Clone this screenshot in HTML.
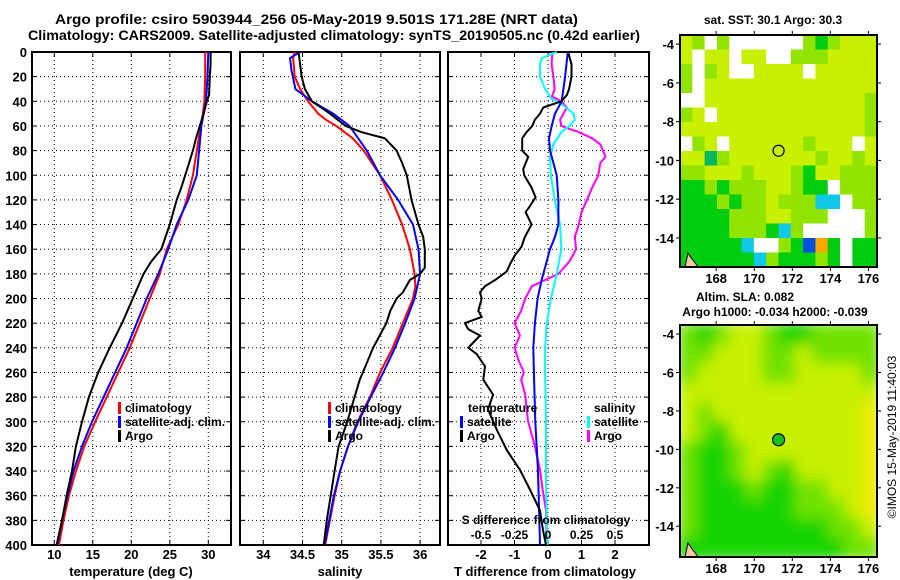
<!DOCTYPE html>
<html><head><meta charset="utf-8">
<style>
body{margin:0;background:#fff;}
svg{display:block;font-family:"Liberation Sans",sans-serif;font-weight:bold;}
</style></head>
<body>
<svg id="fig" width="900" height="580" viewBox="0 0 900 580" xmlns="http://www.w3.org/2000/svg">
<text x="55" y="24" font-size="13.5" textLength="523" lengthAdjust="spacingAndGlyphs">Argo profile: csiro 5903944_256 05-May-2019 9.501S 171.28E (NRT data)</text>
<text x="28" y="40" font-size="13.5" textLength="612" lengthAdjust="spacingAndGlyphs">Climatology: CARS2009. Satellite-adjusted climatology: synTS_20190505.nc (0.42d earlier)</text>
<g id="g1"></g>
<g id="g2"></g>
<g id="g3"></g>
<g id="m1"></g>
<g id="m2"></g>
<text x="773" y="24" font-size="12" text-anchor="middle">sat. SST: 30.1 Argo: 30.3</text>
<text x="745" y="301" font-size="12" text-anchor="middle">Altim. SLA: 0.082</text>
<text x="775" y="316" font-size="12" text-anchor="middle">Argo h1000: -0.034 h2000: -0.039</text>
<text x="0" y="0" font-size="12" font-weight="normal" text-anchor="middle" transform="translate(896,437) rotate(-90)">©IMOS 15-May-2019 11:40:03</text>
</svg>
<script>
// ---------- data ----------
const depthTicks=[0,20,40,60,80,100,120,140,160,180,200,220,240,260,280,300,320,340,360,380,400];
const tempTicks=[10,15,20,25,30];
const salTicks=[34,34.5,35,35.5,36];
const salTickLabels=["34","34.5","35","35.5","36"];
const tdiffTicks=[-2,-1,0,1,2];
const sdiffTicks=[-0.5,-0.25,0,0.25,0.5];
const sdiffTickLabels=["-0.5","-0.25","0","0.25","0.5"];

const tClimD=[0,20,40,50,60,80,100,120,140,160,180,200,220,240,260,280,300,320,340,360,380,400];
const tClimV=[29.6,29.6,29.5,29.3,29.0,28.5,28.0,27.2,26.1,24.6,23.7,22.4,21.1,19.8,18.3,16.8,15.3,13.9,12.8,11.9,11.2,10.6];
const tSatD=[0,20,40,50,60,80,100,120,140,160,180,200,220,240,260,280,300,320,340,360,380,400];
const tSatV=[30.0,29.9,29.7,29.4,29.1,28.8,28.5,27.4,25.9,24.8,23.5,22.0,20.7,19.4,17.9,16.4,14.9,13.6,12.5,11.7,11.0,10.4];
const tArgoD=[0,10,20,35,40,50,60,70,80,90,100,110,120,140,160,170,180,200,220,240,260,280,300,320,340,360,380,400];
const tArgoV=[30.3,30.3,30.2,30.1,29.8,29.4,28.9,28.4,28.0,27.5,27.0,26.5,25.9,25.0,23.9,22.6,21.6,20.2,18.8,17.2,15.7,14.5,13.6,12.8,12.3,11.6,11.0,10.3];

const sClimD=[0,5,20,30,40,50,55,60,70,80,100,120,140,160,180,190,200,220,240,260,280,300,320,340,360,380,400];
const sClimV=[34.40,34.38,34.40,34.47,34.57,34.70,34.80,34.93,35.14,35.28,35.49,35.64,35.77,35.87,35.93,35.94,35.91,35.78,35.65,35.49,35.36,35.20,35.08,34.98,34.91,34.85,34.79];
const sSatD=[0,5,15,30,40,50,60,80,100,120,140,160,180,200,220,240,260,280,300,320,340,360,380,400];
const sSatV=[34.47,34.34,34.36,34.41,34.62,34.89,35.10,35.32,35.49,35.72,35.91,35.98,36.00,35.93,35.81,35.68,35.53,35.37,35.21,35.08,34.98,34.90,34.84,34.78];
const sArgoD=[0,10,20,30,40,50,55,60,65,70,80,90,100,120,140,150,160,175,180,185,195,200,210,220,240,260,266,300,320,340,360,380,400];
const sArgoV=[34.45,34.47,34.49,34.53,34.62,34.85,34.95,35.05,35.25,35.55,35.70,35.77,35.83,35.89,35.98,36.04,36.06,36.06,36.00,35.87,35.78,35.70,35.62,35.57,35.40,35.27,35.23,35.07,34.96,34.91,34.86,34.81,34.77];

const dTSatD=[0,20,40,50,60,70,80,90,100,120,140,150,160,175,185,200,220,240,260,300,340,400];
const dTSatV=[0.59,0.51,0.41,0.21,0.11,0.03,0.06,0.16,0.26,0.31,0.31,0.21,0.06,-0.09,-0.19,-0.31,-0.39,-0.44,-0.42,-0.38,-0.30,-0.24];
const dTArgoD=[0,10,20,30,35,40,45,50,55,60,65,70,80,85,95,100,110,118,125,130,140,150,158,165,172,178,185,190,195,200,210,215,220,225,230,240,245,255,266,278,290,307,323,339,355,372,388,400];
const dTArgoV=[0.6,0.7,0.7,0.63,0.56,0.4,-0.14,-0.24,-0.39,-0.47,-0.64,-0.77,-0.77,-0.59,-0.74,-0.71,-0.49,-0.37,-0.54,-0.67,-0.49,-0.69,-0.79,-0.99,-1.13,-1.23,-1.58,-1.88,-2.03,-1.98,-2.08,-1.98,-2.48,-2.38,-2.03,-2.38,-2.13,-1.88,-1.93,-1.64,-1.79,-1.52,-1.23,-0.84,-0.54,-0.24,-0.15,-0.06];
const dSSatD=[0,5,10,20,30,38,42,50,55,60,65,75,85,100,120,140,160,180,200,220,240,260,300,350,400];
const dSSatV=[0.065,-0.047,-0.06,-0.06,-0.022,0.027,0.10,0.19,0.20,0.16,0.10,0.04,0.015,0.022,0.05,0.09,0.10,0.065,0.022,-0.01,-0.022,-0.022,-0.015,-0.015,-0.005];
const dSArgoD=[0,10,20,30,36,40,45,50,55,60,62,65,70,75,80,85,90,100,110,120,130,140,150,160,170,180,185,190,200,210,220,230,240,250,260,266,278,299,319,339,355,372,396,400];
const dSArgoV=[0.032,0.027,0.04,0.05,0.03,0.1,0.14,0.115,0.09,0.1,0.15,0.23,0.33,0.39,0.41,0.43,0.39,0.375,0.33,0.29,0.25,0.23,0.2,0.21,0.16,0.077,-0.022,-0.12,-0.17,-0.2,-0.25,-0.21,-0.25,-0.22,-0.18,-0.2,-0.17,-0.15,-0.1,-0.06,-0.04,-0.015,-0.01,-0.01];

const mapRows1=["ylwlwwwwwwlglyyy","ywyywyywwlllyyyy","lwlywwyyyywyyyyy","lwyyyyyyyyyyyyyy","wwyyyyyyyyyyyyyl","lywyyyyyyyyyyyyl","yyyyyyyyyyyyyyyl","wlywyyyyyylyyywy","yydlyyyyyyylyyly","llyyylyyylgyylll","gglglllyylggwlll","ggglgllylllccwll","gggglllyylllwwwl","gggglllgclwwwwwl","gggggcwwlgbogwgg","ggggggclggglgwgg"];
const mapRows2=["lglyylggllll","llyyyllyllll","lyyyyllyyyyl","yyyyyyyyyyyy","ylyyyyyyyyyY","ylgyyyyyyyyY","lgglyyyyyyyY","lgglylgyyyyY","lggglggllyyY","lgggggglllyY","lgggggggglly","ggggggggggll"];
const lonTicks=[168,170,172,174,176];
const latTicks=[-4,-6,-8,-10,-12,-14];
const argoLon=171.28, argoLat=-9.501;

// ---------- helpers ----------
const NS="http://www.w3.org/2000/svg";
function mk(parent,tag,attrs){const e=document.createElementNS(NS,tag);for(const k in attrs)e.setAttribute(k,attrs[k]);parent.appendChild(e);return e;}
const yD=d=>52+d*1.2325;
const TOP=52,BOT=545;
const xT=t=>54.3+(t-10)*7.7;
const xS=s=>263.3+(s-34)*78.4;
const xDT=t=>548+t*33.5;
const xDS=s=>548+s*134;

function frame(g,x0,x1,labelsLeft){
  depthTicks.forEach(d=>{
    if(d>0&&d<400){const l=mk(g,'line',{x1:x0,x2:x1,y1:yD(d),y2:yD(d),stroke:'#000','stroke-width':1,'stroke-dasharray':'1,3'});
    }
    mk(g,'line',{x1:x0,x2:x0+5,y1:yD(d),y2:yD(d),stroke:'#000'});
    mk(g,'line',{x1:x1-5,x2:x1,y1:yD(d),y2:yD(d),stroke:'#000'});
    if(labelsLeft){const t=mk(g,'text',{x:27,y:yD(d)+5,'font-size':13,'text-anchor':'end'});t.textContent=d;
      }
  });
  const r=mk(g,'rect',{x:x0,y:TOP,width:x1-x0,height:BOT-TOP,fill:'none',stroke:'#000','stroke-width':2});
  
}
function vgrid(g,xs){xs.forEach(x=>{
  const l=mk(g,'line',{x1:x,x2:x,y1:TOP,y2:BOT,stroke:'#000','stroke-dasharray':'1,3'});
  
  mk(g,'line',{x1:x,x2:x,y1:TOP,y2:TOP+5,stroke:'#000'});mk(g,'line',{x1:x,x2:x,y1:BOT-5,y2:BOT,stroke:'#000'});});}
function line(g,D,V,fx,color,name){
  const pts=D.map((d,i)=>fx(V[i]).toFixed(1)+','+yD(d).toFixed(1)).join(' ');
  const p=mk(g,'polyline',{points:pts,fill:'none',stroke:color,'stroke-width':2});
  
}
function txt(g,x,y,s,size,anchor,name){const t=mk(g,'text',{x:x,y:y,'font-size':size,'text-anchor':anchor||'start'});t.textContent=s;
  return t;}
function legend(g,x,y,color,label,name){mk(g,'rect',{x:x,y:y-10,width:3,height:12,fill:color});txt(g,x+7,y,label,12,'start',name);}

// ---------- panel 1 ----------
const g1=document.getElementById('g1');
vgrid(g1,tempTicks.map(xT));
frame(g1,32,231,true);
tempTicks.forEach(t=>txt(g1,xT(t),559,t,13,'middle','temp-tick-label'));
txt(g1,131,576,'temperature (deg C)',13,'middle','x-axis-title-temperature');
line(g1,tClimD,tClimV,xT,'#f00','temp-climatology-line');
line(g1,tSatD,tSatV,xT,'#00f','temp-satellite-line');
line(g1,tArgoD,tArgoV,xT,'#000','temp-argo-line');
legend(g1,118,412,'#f00','climatology','legend-climatology');
legend(g1,118,426,'#00f','satellite-adj. clim.','legend-satellite');
legend(g1,118,440,'#000','Argo','legend-argo');

// ---------- panel 2 ----------
const g2=document.getElementById('g2');
vgrid(g2,salTicks.map(xS));
frame(g2,240,440,false);
salTicks.forEach((s,i)=>txt(g2,xS(s),559,salTickLabels[i],13,'middle','salinity-tick-label'));
txt(g2,340,576,'salinity',13,'middle','x-axis-title-salinity');
line(g2,sClimD,sClimV,xS,'#f00','sal-climatology-line');
line(g2,sSatD,sSatV,xS,'#00f','sal-satellite-line');
line(g2,sArgoD,sArgoV,xS,'#000','sal-argo-line');
legend(g2,328,412,'#f00','climatology','legend-climatology');
legend(g2,328,426,'#00f','satellite-adj. clim.','legend-satellite');
legend(g2,328,440,'#000','Argo','legend-argo');

// ---------- panel 3 ----------
const g3=document.getElementById('g3');
vgrid(g3,tdiffTicks.map(xDT));
frame(g3,448,649,false);
tdiffTicks.forEach(t=>txt(g3,xDT(t),559,t,13,'middle','tdiff-tick-label'));
txt(g3,545,576,'T difference from climatology',13,'middle','x-axis-title-tdiff');
line(g3,dSArgoD,dSArgoV,xDS,'#f0f','sdiff-argo-line');
line(g3,dSSatD,dSSatV,xDS,'#0ff','sdiff-satellite-line');
line(g3,dTSatD,dTSatV,xDT,'#00f','tdiff-satellite-line');
line(g3,dTArgoD,dTArgoV,xDT,'#000','tdiff-argo-line');
txt(g3,468,412,'temperature',12,'start','legend-temperature-header');
legend(g3,460,426,'#00f','satellite','legend-t-satellite');
legend(g3,460,440,'#000','Argo','legend-t-argo');
txt(g3,594,412,'salinity',12,'start','legend-salinity-header');
legend(g3,587,426,'#0ff','satellite','legend-s-satellite');
legend(g3,587,440,'#f0f','Argo','legend-s-argo');
txt(g3,546,524,'S difference from climatology',12,'middle','sdiff-axis-title');
sdiffTicks.forEach((s,i)=>txt(g3,xDS(s),539,sdiffTickLabels[i],12,'middle','sdiff-tick-label'));

// ---------- maps ----------
const cols1={w:'#ffffff',y:'#c8f000',l:'#90e400',g:'#00cc10',d:'#00b860',c:'#10c8e8',b:'#0050e0',o:'#f8a800'};
const cols2={g:'#18d400',l:'#70e200',y:'#c8f000',Y:'#ecea00'};
const LON0=166.1,LON1=176.45;
function drawMap(g,rows,cols,top,bot,latTop,latBot,blur,filled){
  const x0=680,x1=877;
  const mx=lon=>x0+(lon-LON0)/(LON1-LON0)*(x1-x0);
  const my=lat=>top+(latTop-lat)/(latTop-latBot)*(bot-top);
  const inner=mk(g,'g',{});
  if(blur){const cp=mk(g,'clipPath',{id:'cp'+top});mk(cp,'rect',{x:x0,y:top,width:x1-x0,height:bot-top});
    inner.setAttribute('clip-path','url(#cp'+top+')');
    const f=mk(g,'filter',{id:'bl'+top});mk(f,'feGaussianBlur',{stdDeviation:blur});}
  const inner2=mk(inner,'g',blur?{filter:'url(#bl'+top+')'}:{});
  const nr=rows.length,nc=rows[0].length,cw=(x1-x0)/nc,ch=(bot-top)/nr;
  rows.forEach((r,i)=>{for(let j=0;j<nc;j++){
    const pad=blur?3:0;
    const c=mk(inner2,'rect',{x:x0+j*cw-(j==0?pad:0),y:top+i*ch-(i==0?pad:0),width:cw+0.6+(j==0||j==nc-1?pad:0),height:ch+0.6+(i==0||i==nr-1?pad:0),fill:cols[r[j]]});
    }});
  mk(g,'path',{d:`M${x0+5},${bot} L${x0+8},${bot-14} L${x0+12},${bot-8} L${x0+16},${bot-3} L${x0+18},${bot} Z`,fill:'#f8c8a0',stroke:'#000','stroke-width':1});
  mk(g,'rect',{x:x0,y:top,width:x1-x0,height:bot-top,fill:'none',stroke:'#000','stroke-width':2});
  lonTicks.forEach(l=>{const x=mx(l);mk(g,'line',{x1:x,x2:x,y1:top-4,y2:top,stroke:'#000'});mk(g,'line',{x1:x,x2:x,y1:bot,y2:bot+4,stroke:'#000'});
    txt(g,x,bot+16,l,13,'middle','lon-tick-label');});
  latTicks.forEach(l=>{const y=my(l);mk(g,'line',{x1:x0-4,x2:x0,y1:y,y2:y,stroke:'#000'});mk(g,'line',{x1:x1,x2:x1+4,y1:y,y2:y,stroke:'#000'});
    txt(g,674,y+5,l,13,'end','lat-tick-label');});
  const c=mk(g,'circle',{cx:mx(argoLon),cy:my(argoLat),r:filled?6:5.5,fill:filled?'#18c020':'none',stroke:'#000','stroke-width':1.2});
  
}
drawMap(document.getElementById('m1'),mapRows1,cols1,35,267,-3.53,-15.5,0,false);
drawMap(document.getElementById('m2'),mapRows2,cols2,325,557,-3.53,-15.6,7,true);
</script>
</body></html>
